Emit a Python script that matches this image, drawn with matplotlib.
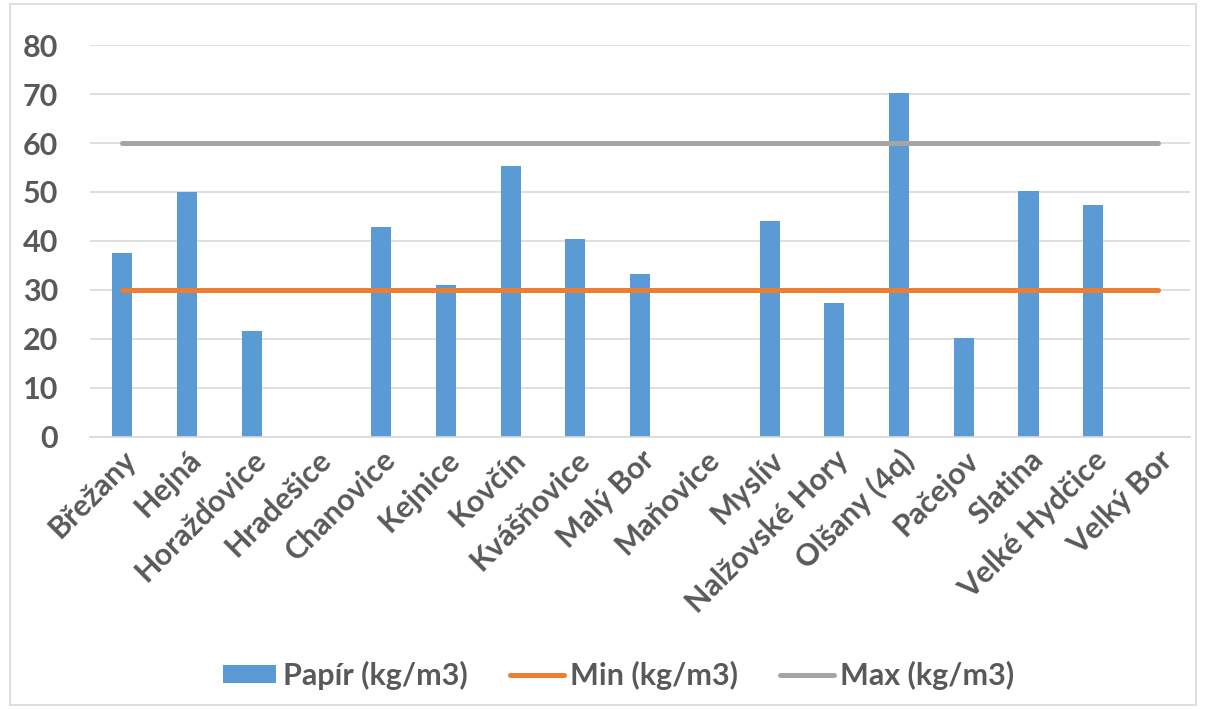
"""
Papír (kg/m3) per obec, with Min and Max limits drawn as lines.
"""

import numpy as np
import matplotlib
matplotlib.use("Agg")
import matplotlib.pyplot as plt
from matplotlib.patches import Rectangle
from matplotlib import font_manager

plt.rcParams["font.family"] = ["Lato", "DejaVu Sans"]
plt.rcParams["font.weight"] = "bold"

obce = [
    "Břežany", "Hejná", "Horažďovice", "Hradešice", "Chanovice", "Kejnice",
    "Kovčín", "Kvášňovice", "Malý Bor", "Maňovice", "Myslív", "Nalžovské Hory",
    "Olšany (4q)", "Pačejov", "Slatina", "Velké Hydčice", "Velký Bor",
]
papir = [37.6, 50.0, 21.7, np.nan, 42.8, 31.1, 55.3, 40.5, 33.3, np.nan,
         44.1, 27.4, 70.3, 20.2, 50.2, 47.3, np.nan]
min_limit = [30] * len(obce)
max_limit = [60] * len(obce)

text_color = "#595959"
x = np.arange(len(obce))

fig = plt.figure(figsize=(12.06, 7.09), dpi=100)
ax = fig.add_axes([0.0746, 0.3837, 0.9124, 0.5528])

bars = ax.bar(x, papir, width=0.31, color="#5b9bd5", label="Papír (kg/m3)",
              zorder=2)
l_min, = ax.plot(x, min_limit, color="#ed7d31", lw=3.6, solid_capstyle="round",
                 label="Min (kg/m3)", zorder=3)
l_max, = ax.plot(x, max_limit, color="#a5a5a5", lw=3.6, solid_capstyle="round",
                 label="Max (kg/m3)", zorder=3)

ax.set_xlim(-0.5, len(obce) - 0.5)
ax.set_ylim(0, 80)
ax.set_yticks(range(0, 81, 10))
ax.grid(axis="y", color="#d9d9d9", lw=1.2, zorder=0)
ax.set_axisbelow(True)
for side in ["top", "right", "left"]:
    ax.spines[side].set_visible(False)
ax.spines["bottom"].set_color("#d9d9d9")
ax.spines["bottom"].set_linewidth(1.2)

ax.tick_params(axis="y", length=0, pad=23, labelsize=22, labelcolor=text_color)
ax.tick_params(axis="x", length=0, pad=6, labelsize=22, labelcolor=text_color)
ax.set_xticks(x)
ax.set_xticklabels(obce, rotation=45, ha="right", va="top",
                   rotation_mode="anchor", fontweight="bold")

legend_font = font_manager.FontProperties(family=["Lato", "DejaVu Sans"],
                                          weight="bold", size=22)
fig.legend(handles=[bars, l_min, l_max], loc="center",
           bbox_to_anchor=(0.5129, 1 - 675 / 709), ncol=3,
           frameon=False, handlelength=1.75, handleheight=0.55,
           columnspacing=1.4, prop=legend_font, labelcolor=text_color,
           handletextpad=0.2)

# light frame around the whole chart area
fig.patches.append(Rectangle((10 / 1206, 0.005), 1 - 20 / 1206, 0.99,
                             transform=fig.transFigure, fill=False,
                             edgecolor="#d9d9d9", lw=1.2))

fig.savefig("out.png", dpi=100)
